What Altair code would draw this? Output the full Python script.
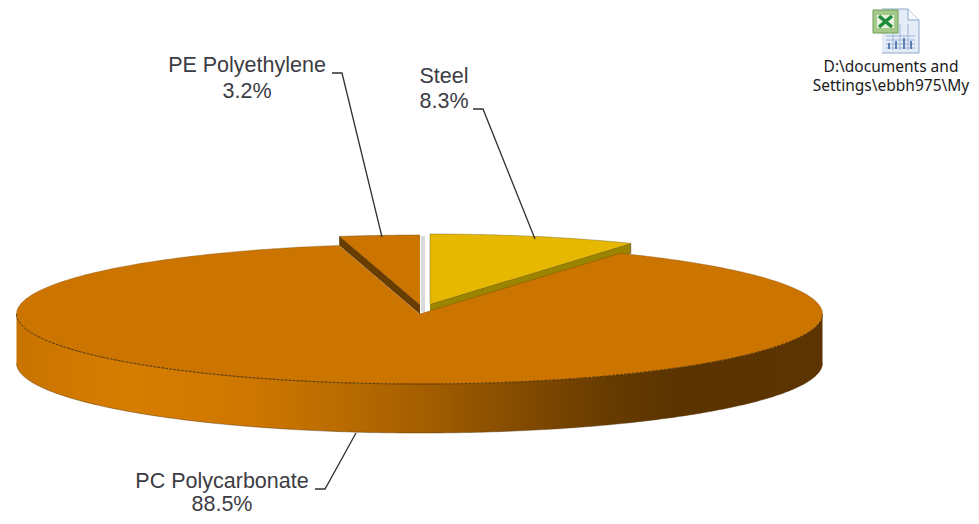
import math
import altair as alt
import pandas as pd

# ---- chart values
categories = ["PC Polycarbonate", "PE Polyethylene", "Steel"]
shares = [88.5, 3.2, 8.3]
share_labels = ["88.5%", "3.2%", "8.3%"]
icon_caption = ["D:\\documents and", "Settings\\ebbh975\\My"]

# ---- layout constants (reference pixel space)
CX, CY, RX, RY, DEPTH = 419.5, 314, 403, 70, 49
PE_CENTER = (420, 305)
STEEL_CENTER = (430, 304)
W, H = 963, 508

xs = alt.Scale(domain=[8, 8 + W], range=[0, W], nice=False, zero=False)
ys = alt.Scale(domain=[8, 8 + H], range=[0, H], nice=False, zero=False)
X = lambda f="x": alt.X(f"{f}:Q", scale=xs, axis=None)
Y = lambda f="y": alt.Y(f"{f}:Q", scale=ys, axis=None)


def wedge(cx, cy, a0, a1, n=160, apex=True):
    """Outline of a sector, angles in degrees clockwise from 12 o'clock."""
    pts = [(cx, cy)] if apex else []
    for k in range(n + 1):
        a = math.radians(a0 + (a1 - a0) * k / n)
        pts.append((cx + RX * math.sin(a), cy - RY * math.cos(a)))
    return pd.DataFrame([{"x": p[0], "y": p[1], "i": i} for i, p in enumerate(pts)])


def poly(df, fill, stroke=None, sw=0.7, so=1.0):
    m = alt.Chart(df).mark_line(
        fill=fill, stroke=stroke or fill, strokeWidth=sw, strokeOpacity=so, clip=False
    )
    return m.encode(x=X(), y=Y(), order="i:Q")


def pts(seq):
    return pd.DataFrame([{"x": a, "y": b, "i": i} for i, (a, b) in enumerate(seq)])


total = sum(shares)
steel_deg = shares[2] / total * 360
pe_deg = shares[1] / total * 360

ORANGE = "#CB7400"
EDGE = "#4a2c00"

# Steel slice
s_face = wedge(*STEEL_CENTER, 0, steel_deg, n=40)
s_a = math.radians(steel_deg)
s_tip = (STEEL_CENTER[0] + RX * math.sin(s_a), STEEL_CENTER[1] - RY * math.cos(s_a))
s_wall = pts([STEEL_CENTER, s_tip, (s_tip[0], s_tip[1] + 10),
              (STEEL_CENTER[0], STEEL_CENTER[1] + 10)])

# PE slice
p_face = wedge(*PE_CENTER, 360 - pe_deg, 360, n=20)
p_a = math.radians(360 - pe_deg)
p_tip = (PE_CENTER[0] + RX * math.sin(p_a), PE_CENTER[1] - RY * math.cos(p_a))
p_wall = pts([PE_CENTER, p_tip, (p_tip[0], p_tip[1] + 9),
              (PE_CENTER[0], PE_CENTER[1] + 9)])

# PC main slice
main_face = wedge(CX, CY, steel_deg, 360 - pe_deg, n=360)

# side wall of main slice (front half of the ellipse), left to right
rim = []
for k in range(241):
    a = math.radians(270 - 180 * k / 240)
    rx = CX + RX * math.sin(a)
    ry = CY - RY * math.cos(a)
    rim.append({"x": rx, "y": ry, "y2": ry + DEPTH, "i": k})
rim = pd.DataFrame(rim)

stops = [
    (0.00, "#C97400"), (0.14, "#D67D00"), (0.29, "#CE7700"), (0.40, "#BA6C00"),
    (0.50, "#A55F00"), (0.60, "#8A4F00"), (0.72, "#6A3D00"), (0.82, "#5A3300"),
    (1.00, "#5C3400"),
]
grad = alt.Gradient(
    gradient="linear", x1=0, x2=1, y1=0, y2=0,
    stops=[alt.GradientStop(offset=o, color=c) for o, c in stops],
)
wall = alt.Chart(rim).mark_area(fill=grad, clip=False, opacity=1).encode(
    x=alt.X("x:Q", scale=xs, axis=None, sort=None),
    y=Y(),
    y2=alt.Y2("y2:Q"),
)
rim_line = alt.Chart(rim).mark_line(
    color=EDGE, strokeWidth=0.8, strokeDash=[3, 1]
).encode(x=X(), y=Y(), order="i:Q")
rim_bottom = alt.Chart(rim).mark_line(
    color=EDGE, strokeWidth=0.6, strokeOpacity=0.7
).encode(x=X(), y=Y("y2"), order="i:Q")

gap = alt.Chart(pd.DataFrame([{"x": 421, "x2": 425, "y": 236, "y2": 312}])).mark_rect(
    color="#D9D9D9"
).encode(x=X(), x2="x2:Q", y=Y(), y2="y2:Q")


def leader(seq):
    return alt.Chart(pts(seq)).mark_line(color="#303030", strokeWidth=1.3).encode(
        x=X(), y=Y(), order="i:Q"
    )


leaders = [
    leader([(332, 73), (342, 73), (382, 237)]),
    leader([(473, 109), (483, 109), (535, 239)]),
    leader([(315, 489), (325, 489), (356, 433)]),
]

labels = pd.DataFrame([
    {"x": 222, "y": 488, "t": categories[0]},
    {"x": 222, "y": 511, "t": share_labels[0]},
    {"x": 247, "y": 72, "t": categories[1]},
    {"x": 247, "y": 98, "t": share_labels[1]},
    {"x": 444, "y": 83, "t": categories[2]},
    {"x": 444, "y": 108, "t": share_labels[2]},
])
label_text = alt.Chart(labels).mark_text(
    font="Liberation Sans", fontSize=21.5, color="#3c3c44", align="center", baseline="alphabetic"
).encode(x=X(), y=Y(), text="t:N")

caption = pd.DataFrame([
    {"x": 891, "y": 72, "t": icon_caption[0]},
    {"x": 891, "y": 91, "t": icon_caption[1]},
])
caption_text = alt.Chart(caption).mark_text(
    font="Noto Sans", fontSize=15.5, color="#1a1a1a", align="center", baseline="alphabetic"
).encode(x=X(), y=Y(), text="t:N")

# Spreadsheet icon
paper = poly(pts([(882, 9), (908, 9), (919, 20), (919, 53), (882, 53)]), "#E4ECF7", "#8FA8CC", 1)
fold = poly(pts([(908, 9), (908, 20), (919, 20)]), "#F6F9FD", "#8FA8CC", 1)
cells = alt.Chart(pd.DataFrame(
    [{"x": 886, "x2": 915, "y": v, "y2": v} for v in (36, 40, 44, 48)]
    + [{"x": v, "x2": v, "y": 24, "y2": 50} for v in (893, 900, 908)]
)).mark_rule(color="#9FB4D4", strokeWidth=1).encode(x=X(), x2="x2:Q", y=Y(), y2="y2:Q")
bars = alt.Chart(pd.DataFrame(
    [{"x": v, "x2": v, "y": t, "y2": 49} for v, t in ((889, 43), (896, 41), (904, 38), (911, 41))]
)).mark_rule(color="#5B7FB5", strokeWidth=2).encode(x=X(), x2="x2:Q", y=Y(), y2="y2:Q")
green = alt.Chart(pd.DataFrame([{"x": 873, "x2": 898, "y": 10, "y2": 33}])).mark_rect(
    color="#A5C98A", stroke="#6F9E57", strokeWidth=1
).encode(x=X(), x2="x2:Q", y=Y(), y2="y2:Q")
inner = alt.Chart(pd.DataFrame([{"x": 877, "x2": 894, "y": 15, "y2": 28}])).mark_rect(
    color="#E8F3DF"
).encode(x=X(), x2="x2:Q", y=Y(), y2="y2:Q")
cross = alt.Chart(pd.DataFrame([
    {"x": 879, "x2": 892, "y": 16, "y2": 27},
    {"x": 892, "x2": 879, "y": 16, "y2": 27},
])).mark_rule(color="#1F8A3B", strokeWidth=3.5).encode(x=X(), x2="x2:Q", y=Y(), y2="y2:Q")

chart = alt.layer(
    poly(s_wall, "#9B8400", EDGE, 0.5),
    poly(s_face, "#E6B900", "#5a4a00", 0.5, 0.7),
    poly(p_wall, "#693C00", "#3a2000", 0.5),
    poly(p_face, ORANGE, "#5a3400", 0.5, 0.7),
    gap,
    wall,
    rim_bottom,
    poly(main_face, ORANGE, "#6a3d00", 0.5, 0.6),
    rim_line,
    *leaders,
    label_text,
    paper, fold, cells, bars, green, inner, cross,
    caption_text,
).properties(
    width=W, height=H, padding=0, autosize=alt.AutoSizeParams(type="none"),
    background="#FFFFFF",
).configure_view(stroke=None)

chart.save("out.html", embed_options={"renderer": "svg", "actions": False})
